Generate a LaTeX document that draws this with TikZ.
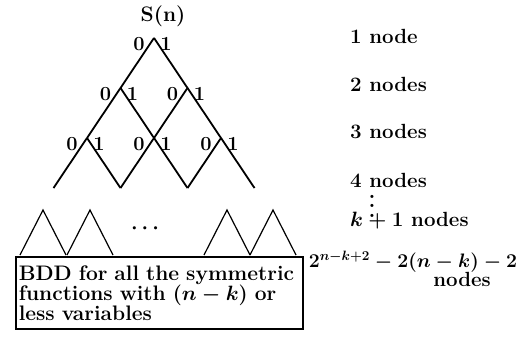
\documentclass[tikz,border=0pt]{standalone}
\usepackage{tikz}
\usetikzlibrary{positioning, calc}

\begin{document}
\begin{tikzpicture}[
  x=1pt, y=-1pt,
  font=\fontsize{20.5}{20}\selectfont\bfseries\boldmath,
  edge/.style={line width=1.8pt},
  bit/.style={inner sep=0pt, font=\fontsize{20}{20}\selectfont\bfseries},
  cnt/.style={anchor=west, inner sep=0pt},
  bddbox/.style={draw, line width=1.6pt, anchor=north west, minimum width=287pt, minimum height=72pt, text width=281pt, inner sep=1.5pt, align=left, font=\fontsize{21}{20}\selectfont\bfseries\boldmath}
]
\useasboundingbox (0,0) rectangle (526,339);
% lattice of the symmetric function
\node[inner sep=0pt, font=\fontsize{21}{20}\selectfont\bfseries] (root) at (163,16) {S(n)};
\foreach \i in {0,1,2,3}{
  \foreach \j in {0,...,\i}{
    \coordinate (v-\i-\j) at ({154+(2*\j-\i)*33.5},{38+\i*50});
  }
}
\foreach \i/\k in {0/1,1/2,2/3}{
  \foreach \j in {0,...,\i}{
    \pgfmathtruncatemacro{\jj}{\j+1}
    \draw[edge] (v-\i-\j) -- (v-\k-\j);
    \draw[edge] (v-\i-\j) -- (v-\k-\jj);
    \node[bit] (z-\i-\j) at ($(v-\i-\j)+(-15,6)$) {0};
    \node[bit] (o-\i-\j) at ($(v-\i-\j)+(12,6)$) {1};
  }
}
% sub-BDDs
\foreach \n/\x in {1/43,2/90,3/227,4/273}{
  \coordinate (t\n) at (\x,210);
  \draw[edge, line width=1.2pt] ($(t\n)+(-23,45)$) -- (t\n) -- ++(23,45);
}
\node (dots) at (145,229) {$\cdots$};
\node[bddbox] (bdd) at (15,256) {BDD for all the symmetric\\functions with $(n-k)$ or\\less variables};
% node counts
\node[cnt] (c1) at (350,36) {1 node};
\node[cnt] (c2) at (350,84) {2 nodes};
\node[cnt] (c3) at (350,132) {3 nodes};
\node[cnt] (c4) at (350,180) {4 nodes};
\node[inner sep=0pt, align=center, font=\fontsize{22}{9.5}\selectfont\bfseries] (cd) at (372,206) {.\\.\\.};
\node[cnt] (ck) at (350,221) {$k+1$ nodes};
\node[inner sep=0pt, scale=0.94, transform shape, font=\fontsize{20.74}{20}\selectfont\bfseries\boldmath] (cf) at (413,262) {$2^{n-k+2}-2(n-k)-2$};
\node[inner sep=0pt] (cn) at (462,279) {nodes};
\end{tikzpicture}
\end{document}
